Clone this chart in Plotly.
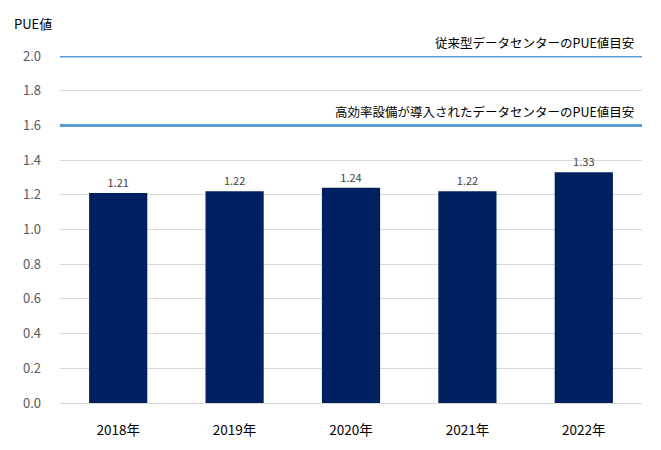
import plotly.graph_objects as go

years = ["2018年", "2019年", "2020年", "2021年", "2022年"]
pue = [1.21, 1.22, 1.24, 1.22, 1.33]
ref_values = [2.0, 1.6]
ref_labels = ["従来型データセンターのPUE値目安", "高効率設備が導入されたデータセンターのPUE値目安"]
y_ticks = [0.0, 0.2, 0.4, 0.6, 0.8, 1.0, 1.2, 1.4, 1.6, 1.8, 2.0]

FONT = "Noto Sans CJK JP"

fig = go.Figure()
fig.add_trace(go.Bar(
    x=years, y=pue,
    marker=dict(color="#002060", line=dict(width=0)),
    text=[f"{v:.2f}" for v in pue],
    textposition="outside",
    textfont=dict(family=FONT, size=11, color="#404040"),
    cliponaxis=False,
    hoverinfo="x+y",
))

for v, lab in zip(ref_values, ref_labels):
    fig.add_shape(type="line", xref="paper", yref="y", x0=0, x1=1, y0=v, y1=v,
                  line=dict(color="#5B9BD5", width=3), layer="above")
    fig.add_annotation(xref="paper", yref="y", x=0.99, y=v, text=lab, showarrow=False,
                       xanchor="right", yanchor="bottom", yshift=2,
                       font=dict(family=FONT, size=12.5, color="#000000"))

fig.add_annotation(xref="paper", yref="paper", x=-0.083, y=1.06, text="PUE値", showarrow=False,
                   xanchor="left", yanchor="bottom",
                   font=dict(family=FONT, size=13, color="#000000"))

# page body has an 8px margin, so the figure is sized/offset to compensate
fig.update_layout(
    width=653, height=442,
    margin=dict(l=52, r=19, t=48, b=47),
    paper_bgcolor="white", plot_bgcolor="white",
    bargap=0.5,
    showlegend=False,
    font=dict(family=FONT),
    xaxis=dict(
        showgrid=False, showline=False, ticks="", automargin=False,
        ticklabelstandoff=17,
        tickfont=dict(family=FONT, size=13.5, color="#000000"),
    ),
    yaxis=dict(
        range=[0, 2.0], tickvals=y_ticks, ticktext=[f"{t:.1f}" for t in y_ticks],
        showgrid=True, gridcolor="#D9D9D9", gridwidth=1,
        zeroline=True, zerolinecolor="#D9D9D9", zerolinewidth=1,
        showline=False, ticks="", automargin=False,
        ticklabelstandoff=18,
        tickfont=dict(family=FONT, size=13, color="#595959"),
    ),
)

fig.write_html("out.html")
